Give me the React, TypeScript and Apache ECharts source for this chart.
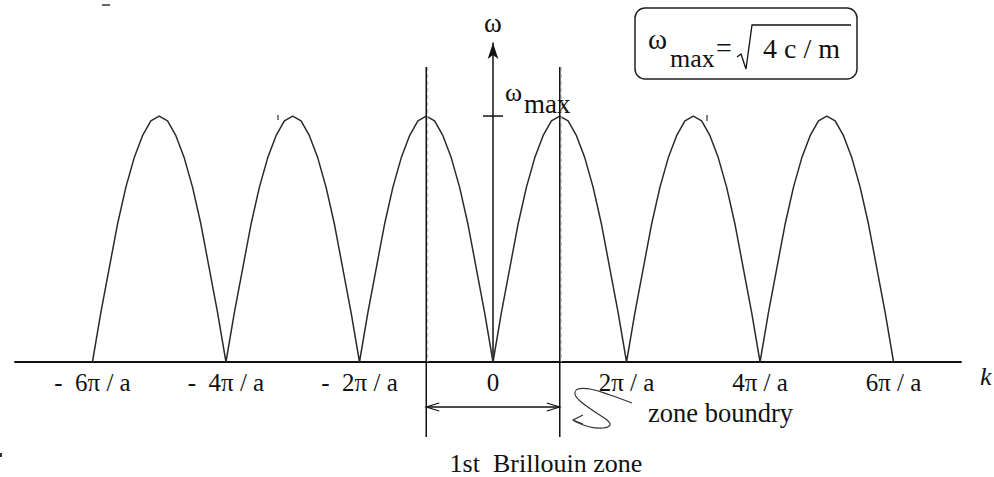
import React, { useEffect, useRef } from "react";
import * as echarts from "echarts";

// Wave number k is measured in units of π/a, frequency ω in units of ω_max.
const K_TICKS = [-6, -4, -2, 0, 2, 4, 6];
const K_LABELS = ["-\u00a0 6π / a", "-\u00a0 4π / a", "-\u00a0 2π / a", "0", "2π / a", "4π / a", "6π / a"];
const ARCH_STARTS = [-6, -4, -2, 0, 2, 4];
const ARCH_STEP = 0.125;
const ARCH_PROFILE = [0, 0.2, 0.38, 0.56, 0.71, 0.83, 0.92, 0.98, 1, 0.98, 0.92, 0.83, 0.71, 0.56, 0.38, 0.2, 0];
const ZONE_EDGES = [-1, 1];
const OMEGA_MAX = 1;

const SERIF = "Liberation Serif";
const INK = "#111";

function buildDispersion(): number[][] {
  const pts: number[][] = [];
  ARCH_STARTS.forEach((start, i) => {
    ARCH_PROFILE.forEach((w, j) => {
      if (i > 0 && j === 0) return;
      pts.push([start + j * ARCH_STEP, w]);
    });
  });
  return pts;
}

const txt = (x: number, y: number, text: string, size: number, extra: any = {}) => ({
  type: "text",
  x,
  y,
  style: {
    text,
    fontFamily: SERIF,
    fontSize: size,
    fill: INK,
    verticalAlign: "middle",
    ...extra,
  },
});

export default function App() {
  const ref = useRef<HTMLDivElement>(null);

  useEffect(() => {
    if (!ref.current) return;
    const chart = echarts.init(ref.current, undefined, { renderer: "svg" });

    const labelFor = (v: number) => {
      const i = K_TICKS.indexOf(Math.round(v));
      return i >= 0 ? K_LABELS[i] : "";
    };

    chart.setOption({
      animation: false,
      backgroundColor: "#fff",
      grid: { left: 15, right: 33, top: 43, bottom: 115, containLabel: false },
      xAxis: {
        type: "value",
        min: -7.16,
        max: 7.01,
        axisLine: { show: true, onZero: false, lineStyle: { color: INK, width: 1.8 } },
        axisTick: { show: false },
        splitLine: { show: false },
        axisLabel: {
          customValues: K_TICKS,
          formatter: labelFor,
          fontFamily: SERIF,
          fontSize: 25,
          color: INK,
          margin: 8,
        },
      },
      yAxis: {
        type: "value",
        min: 0,
        max: 1.297,
        name: "ω",
        nameLocation: "end",
        nameGap: 7,
        nameTextStyle: { fontFamily: SERIF, fontSize: 27, color: INK },
        axisLine: {
          show: true,
          onZero: true,
          symbol: ["none", "arrow"],
          symbolSize: [8, 16],
          lineStyle: { color: INK, width: 1.5 },
        },
        axisTick: { show: false },
        axisLabel: { show: false },
        splitLine: { show: false },
      },
      series: [
        {
          type: "line",
          data: buildDispersion(),
          showSymbol: false,
          silent: true,
          lineStyle: { color: "#2a2a2a", width: 1.5 },
          z: 3,
        },
        {
          // zone boundaries, ω_max tick and the 1st-zone span arrow
          type: "custom",
          data: [[0, 0]],
          clip: false,
          silent: true,
          z: 4,
          renderItem: (_params: any, api: any) => {
            const children: any[] = [];
            ZONE_EDGES.forEach((k) => {
              const top = api.coord([k, 1.199]);
              const bot = api.coord([k, -0.305]);
              children.push({
                type: "line",
                shape: { x1: top[0] + 1.5, y1: top[1], x2: bot[0] + 1.5, y2: api.coord([k, 0])[1] },
                style: { stroke: "#bbb", lineWidth: 1, lineDash: [4, 3] },
              });
              children.push({
                type: "line",
                shape: { x1: top[0], y1: top[1], x2: bot[0], y2: bot[1] },
                style: { stroke: INK, lineWidth: 1.5 },
              });
            });
            const m = api.coord([0, OMEGA_MAX]);
            children.push({
              type: "line",
              shape: { x1: m[0] - 10, y1: m[1], x2: m[0] + 10, y2: m[1] },
              style: { stroke: INK, lineWidth: 1.5 },
            });
            const a = api.coord([ZONE_EDGES[0], -0.183]);
            const b = api.coord([ZONE_EDGES[1], -0.183]);
            children.push({
              type: "line",
              shape: { x1: a[0], y1: a[1], x2: b[0], y2: b[1] },
              style: { stroke: INK, lineWidth: 1.3 },
            });
            children.push({
              type: "polyline",
              shape: { points: [[a[0] + 13, a[1] - 4], [a[0], a[1]], [a[0] + 13, a[1] + 4]] },
              style: { stroke: INK, lineWidth: 1.2, fill: "none" },
            });
            children.push({
              type: "polyline",
              shape: { points: [[b[0] - 13, b[1] - 4], [b[0], b[1]], [b[0] - 13, b[1] + 4]] },
              style: { stroke: INK, lineWidth: 1.2, fill: "none" },
            });
            return { type: "group", children };
          },
        },
      ],
      graphic: [
        txt(980, 376, "k", 26, { fontStyle: "italic" }),
        // ω_max label by the tick
        txt(505, 92, "ω", 26),
        txt(524, 104, "max", 27),
        // boxed formula
        {
          type: "rect",
          shape: { x: 635, y: 8, width: 222, height: 71, r: 10 },
          style: { fill: "none", stroke: "#222", lineWidth: 1.5 },
        },
        txt(648, 39, "ω", 29),
        txt(670, 58, "max", 26),
        txt(716, 47, "=", 28),
        {
          type: "polyline",
          shape: { points: [[737, 57], [741, 54], [746, 69], [752, 25], [851, 25]] },
          style: { stroke: INK, lineWidth: 1.3, fill: "none" },
        },
        txt(763, 48, "4 c / m", 28),
        // zone boundary note with its hand-drawn pointer
        txt(648, 413, "zone boundry", 26.5),
        {
          type: "polyline",
          shape: {
            points: [[632, 403], [610, 395], [590, 389], [578, 389], [575, 394], [580, 401], [595, 412], [607, 420], [610, 425], [603, 428], [590, 427], [574, 421]],
            smooth: 0.4,
          },
          style: { stroke: "#333", lineWidth: 1.2, fill: "none" },
        },
        {
          type: "polyline",
          shape: { points: [[583, 415], [573, 420], [583, 424]] },
          style: { stroke: "#333", lineWidth: 1.2, fill: "none" },
        },
        txt(546, 463, "1st\u00a0 Brillouin zone", 26, { align: "center" }),
        // stray print marks
        { type: "line", shape: { x1: 278, y1: 115, x2: 278, y2: 120 }, style: { stroke: "#333", lineWidth: 1.2 } },
        { type: "line", shape: { x1: 707, y1: 115, x2: 707, y2: 121 }, style: { stroke: "#333", lineWidth: 1.2 } },
        { type: "line", shape: { x1: 102, y1: 5, x2: 110, y2: 5 }, style: { stroke: "#333", lineWidth: 1.5 } },
        { type: "rect", shape: { x: 0, y: 453, width: 2, height: 4 }, style: { fill: "#333" } },
      ],
    });

    return () => chart.dispose();
  }, []);

  return (
    <div
      ref={ref}
      style={{ position: "fixed", left: 0, top: 0, width: 994, height: 477, background: "#fff" }}
    />
  );
}
